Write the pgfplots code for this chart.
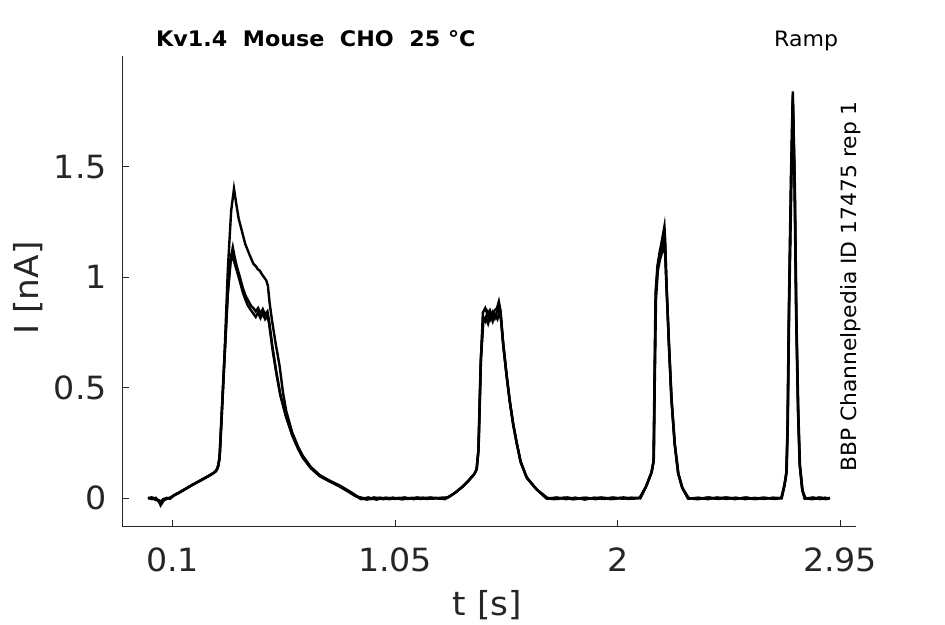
\documentclass[border=0pt]{standalone}
\usepackage{pgfplots}
\pgfplotsset{compat=1.18}
\usepackage{fontspec}
\setmainfont{DejaVu Sans}[FakeStretch=1.04]
\definecolor{axgray}{HTML}{262626}
\begin{document}
\begin{tikzpicture}
\useasboundingbox (-122.5pt,-97.5pt) rectangle (822.5pt,526.5pt);
\begin{axis}[
  scale only axis,
  width=733.5pt, height=470.5pt,
  xmin=-0.114, xmax=3.018,
  ymin=-0.1276, ymax=2.0,
  axis x line=bottom, axis y line=left,
  axis line style={-, color=axgray, line width=0.9pt},
  tick style={color=axgray, line width=0.9pt},
  tick align=inside,
  major tick length=7pt,
  xtick={0.1,1.05,2,2.95},
  xticklabels={0.1,1.05,2,2.95},
  ytick={0,0.5,1,1.5},
  yticklabels={0,0.5,1,1.5},
  ticklabel style={font=\fontsize{32}{38}\selectfont, text=axgray},
  xticklabel style={inner sep=0pt, anchor=north, yshift=-21pt},
  yticklabel style={inner sep=0pt, anchor=east, xshift=-15.5pt},
  xlabel={t [s]},
  ylabel={I [nA]},
  label style={font=\fontsize{33}{40}\selectfont, text=axgray, inner sep=0pt},
  xlabel style={at={(axis description cs:0.4976,-0.1902)}, anchor=base},
  ylabel style={at={(axis description cs:-0.1148,0.5069)}, anchor=base, rotate=0},
  clip=false,
]
% trace A (highest first peak)
\addplot[black, line width=2.4pt] coordinates {
(-0.005,0.000) (0.010,0.004) (0.025,-0.006) (0.040,-0.012) (0.048,-0.030) (0.056,-0.008)
(0.070,-0.004) (0.085,0.000) (0.100,0.010) (0.120,0.020) (0.140,0.032) (0.160,0.045)
(0.180,0.058) (0.200,0.070) (0.220,0.080) (0.240,0.092) (0.260,0.104) (0.280,0.118)
(0.292,0.135) (0.300,0.180) (0.310,0.400) (0.322,0.660) (0.336,1.040) (0.350,1.300)
(0.362,1.400) (0.372,1.330) (0.382,1.265) (0.393,1.220) (0.410,1.150) (0.429,1.100)
(0.445,1.060) (0.455,1.050) (0.464,1.035) (0.472,1.030) (0.480,1.015) (0.490,1.000)
(0.500,0.985) (0.507,0.960) (0.514,0.885) (0.525,0.800) (0.540,0.700) (0.557,0.597)
(0.571,0.480) (0.585,0.395) (0.610,0.300) (0.635,0.235) (0.656,0.192) (0.690,0.142)
(0.728,0.105) (0.770,0.080) (0.813,0.058) (0.850,0.035) (0.880,0.015) (0.900,0.000)
(0.930,-0.006) (0.960,0.004) (1.000,-0.004) (1.040,0.003) (1.080,-0.005) (1.120,0.002)
(1.160,-0.003) (1.200,0.004) (1.240,-0.002) (1.270,0.002) (1.300,0.020) (1.330,0.045)
(1.360,0.075) (1.385,0.105) (1.397,0.127) (1.405,0.200) (1.415,0.600) (1.425,0.840)
(1.435,0.860) (1.445,0.830) (1.455,0.850) (1.465,0.820) (1.475,0.850) (1.485,0.860)
(1.493,0.890) (1.500,0.850) (1.510,0.720) (1.525,0.570) (1.539,0.445) (1.553,0.345)
(1.567,0.264) (1.585,0.170) (1.610,0.097) (1.650,0.045) (1.696,0.000) (1.730,-0.004)
(1.770,0.003) (1.810,-0.005) (1.850,0.002) (1.890,-0.002) (1.930,0.004) (1.970,-0.004)
(2.010,0.002) (2.050,-0.003) (2.094,0.003) (2.120,0.050) (2.144,0.114) (2.153,0.160)
(2.157,0.500) (2.162,0.930) (2.170,1.050) (2.179,1.110) (2.190,1.170) (2.200,1.230)
(2.204,1.150) (2.208,0.990) (2.218,0.720) (2.229,0.460) (2.243,0.250) (2.258,0.114)
(2.275,0.050) (2.300,0.000) (2.340,-0.004) (2.380,0.003) (2.420,-0.002) (2.460,0.004)
(2.500,-0.004) (2.540,0.002) (2.580,-0.003) (2.620,0.003) (2.660,-0.002) (2.699,0.002)
(2.712,0.060) (2.720,0.114) (2.725,0.300) (2.731,0.840) (2.740,1.450) (2.748,1.840)
(2.755,1.450) (2.762,0.840) (2.770,0.400) (2.777,0.158) (2.788,0.040) (2.798,0.000)
(2.830,-0.004) (2.860,0.004) (2.880,-0.003) (2.905,0.002)
};
% trace B
\addplot[black, line width=2.4pt] coordinates {
(-0.005,0.003) (0.012,-0.004) (0.028,0.002) (0.042,-0.016) (0.050,-0.022) (0.060,-0.004)
(0.075,0.002) (0.090,-0.002) (0.105,0.014) (0.125,0.024) (0.145,0.036) (0.165,0.048)
(0.185,0.061) (0.205,0.072) (0.225,0.084) (0.245,0.096) (0.265,0.108) (0.283,0.120)
(0.294,0.140) (0.300,0.175) (0.310,0.380) (0.320,0.600) (0.335,0.920) (0.347,1.080)
(0.357,1.135) (0.365,1.090) (0.375,1.045) (0.386,1.005) (0.400,0.950) (0.412,0.915)
(0.422,0.895) (0.435,0.870) (0.445,0.860) (0.455,0.845) (0.465,0.860) (0.475,0.835)
(0.485,0.855) (0.495,0.830) (0.505,0.845) (0.512,0.800) (0.527,0.680) (0.543,0.570)
(0.560,0.470) (0.585,0.370) (0.610,0.290) (0.635,0.228) (0.656,0.186) (0.690,0.138)
(0.728,0.102) (0.770,0.078) (0.813,0.055) (0.850,0.032) (0.880,0.012) (0.905,-0.004)
(0.935,0.004) (0.970,-0.006) (1.010,0.003) (1.050,-0.003) (1.090,0.004) (1.130,-0.004)
(1.170,0.003) (1.210,-0.002) (1.250,0.003) (1.275,0.004) (1.305,0.024) (1.335,0.050)
(1.362,0.078) (1.387,0.108) (1.398,0.130) (1.406,0.220) (1.416,0.620) (1.426,0.820)
(1.436,0.800) (1.446,0.840) (1.456,0.810) (1.466,0.840) (1.476,0.815) (1.486,0.845)
(1.494,0.860) (1.501,0.830) (1.511,0.700) (1.526,0.555) (1.540,0.435) (1.554,0.335)
(1.568,0.255) (1.586,0.165) (1.612,0.094) (1.652,0.042) (1.698,-0.002) (1.740,0.004)
(1.780,-0.004) (1.820,0.003) (1.860,-0.006) (1.900,0.003) (1.940,-0.003) (1.980,0.004)
(2.020,-0.002) (2.060,0.003) (2.096,0.000) (2.122,0.055) (2.145,0.118) (2.154,0.170)
(2.158,0.520) (2.163,0.920) (2.171,1.040) (2.180,1.100) (2.191,1.150) (2.199,1.200)
(2.204,1.120) (2.209,0.970) (2.219,0.700) (2.230,0.450) (2.244,0.245) (2.259,0.112)
(2.276,0.048) (2.302,-0.002) (2.345,0.003) (2.385,-0.004) (2.425,0.004) (2.465,-0.003)
(2.505,0.003) (2.545,-0.004) (2.585,0.002) (2.625,-0.003) (2.665,0.003) (2.700,0.000)
(2.713,0.062) (2.721,0.118) (2.726,0.320) (2.732,0.860) (2.741,1.440) (2.748,1.810)
(2.756,1.430) (2.763,0.820) (2.771,0.390) (2.778,0.150) (2.789,0.036) (2.800,-0.002)
(2.835,0.004) (2.865,-0.004) (2.885,0.003) (2.905,-0.002)
};
% trace C
\addplot[black, line width=2.4pt] coordinates {
(-0.003,-0.002) (0.015,0.003) (0.030,-0.004) (0.044,-0.010) (0.052,-0.026) (0.062,-0.010)
(0.078,0.000) (0.095,0.004) (0.110,0.016) (0.130,0.028) (0.150,0.040) (0.170,0.052)
(0.190,0.064) (0.210,0.076) (0.230,0.088) (0.250,0.099) (0.270,0.112) (0.286,0.124)
(0.295,0.150) (0.302,0.200) (0.312,0.420) (0.322,0.640) (0.336,0.930) (0.348,1.070)
(0.356,1.100) (0.364,1.065) (0.374,1.030) (0.386,0.985) (0.400,0.930) (0.412,0.895)
(0.422,0.870) (0.435,0.850) (0.445,0.835) (0.455,0.820) (0.465,0.840) (0.475,0.815)
(0.485,0.835) (0.495,0.810) (0.505,0.825) (0.512,0.790) (0.527,0.670) (0.543,0.565)
(0.560,0.465) (0.585,0.365) (0.610,0.286) (0.635,0.225) (0.656,0.183) (0.690,0.136)
(0.728,0.100) (0.770,0.076) (0.813,0.053) (0.850,0.030) (0.880,0.010) (0.910,0.002)
(0.945,-0.004) (0.985,0.003) (1.025,-0.004) (1.065,0.002) (1.105,-0.003) (1.145,0.004)
(1.185,-0.003) (1.225,0.002) (1.262,-0.004) (1.280,0.006) (1.310,0.028) (1.340,0.054)
(1.365,0.082) (1.390,0.112) (1.399,0.135) (1.407,0.240) (1.417,0.640) (1.427,0.800)
(1.437,0.820) (1.447,0.790) (1.457,0.830) (1.467,0.800) (1.477,0.830) (1.487,0.810)
(1.495,0.840) (1.502,0.810) (1.512,0.690) (1.527,0.545) (1.541,0.428) (1.555,0.328)
(1.569,0.250) (1.587,0.160) (1.614,0.090) (1.655,0.040) (1.700,0.002) (1.745,-0.003)
(1.785,0.004) (1.825,-0.003) (1.865,0.003) (1.905,-0.004) (1.945,0.002) (1.985,-0.003)
(2.025,0.004) (2.065,-0.002) (2.098,0.002) (2.124,0.058) (2.146,0.120) (2.155,0.180)
(2.159,0.540) (2.164,0.900) (2.172,1.030) (2.181,1.080) (2.192,1.120) (2.198,1.150)
(2.203,1.100) (2.209,0.950) (2.220,0.690) (2.231,0.440) (2.245,0.240) (2.260,0.110)
(2.277,0.046) (2.304,0.001) (2.350,-0.003) (2.390,0.004) (2.430,-0.003) (2.470,0.003)
(2.510,-0.002) (2.550,0.004) (2.590,-0.004) (2.630,0.002) (2.670,-0.003) (2.701,0.001)
(2.714,0.064) (2.722,0.120) (2.727,0.340) (2.733,0.880) (2.742,1.420) (2.749,1.790)
(2.757,1.410) (2.764,0.800) (2.772,0.380) (2.779,0.145) (2.790,0.034) (2.802,0.001)
(2.840,-0.003) (2.870,0.003) (2.890,-0.004) (2.907,0.001)
};
\end{axis}
\node[anchor=base west, inner sep=0pt, font=\fontsize{21.4}{25}\selectfont\bfseries] at (33.5pt,479.5pt) {Kv1.4\ \ Mouse\ \ CHO\ \ 25 °C};
\node[anchor=base west, inner sep=0pt, font=\fontsize{21.2}{25}\selectfont] at (651.5pt,479.5pt) {Ramp};
\node[anchor=base, inner sep=0pt, rotate=90, font=\fontsize{21}{25}\selectfont] at (734pt,240pt) {BBP Channelpedia ID 17475 rep 1};
\end{tikzpicture}
\end{document}
